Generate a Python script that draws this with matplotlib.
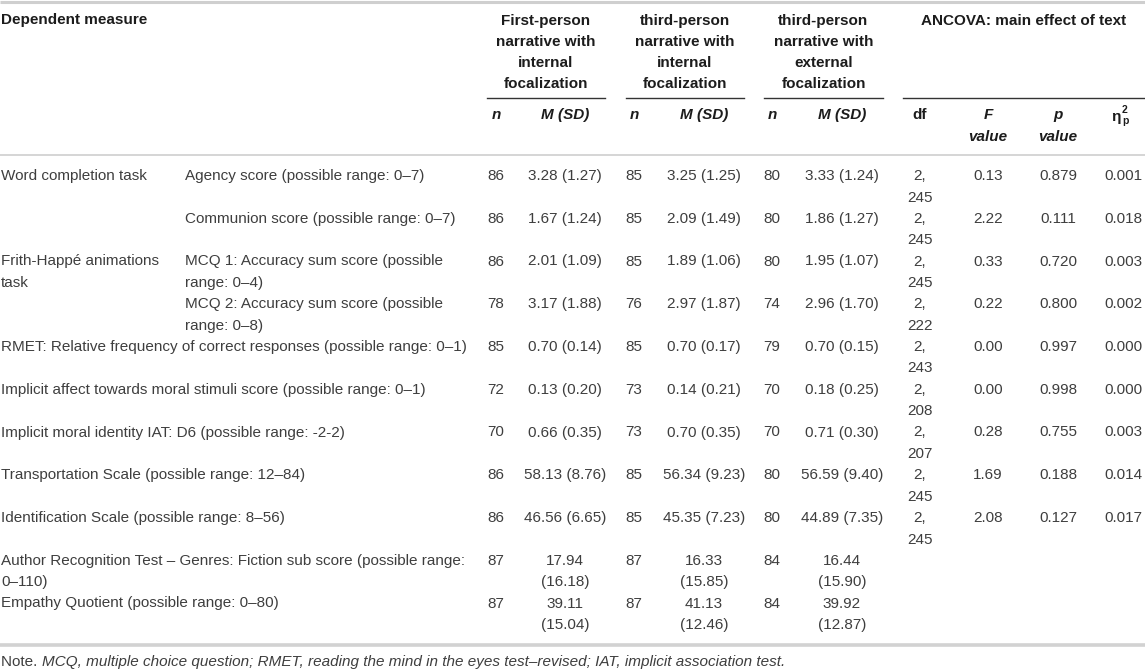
import matplotlib.pyplot as plt

plt.rcParams['font.family'] = ['Liberation Sans', 'DejaVu Sans']

# table content
measures = [
    "Word completion task", "", "Frith-Happé animations\ntask", "",
    "RMET: Relative frequency of correct responses (possible range: 0–1)",
    "Implicit affect towards moral stimuli score (possible range: 0–1)",
    "Implicit moral identity IAT: D6 (possible range: -2-2)",
    "Transportation Scale (possible range: 12–84)",
    "Identification Scale (possible range: 8–56)",
    "Author Recognition Test – Genres: Fiction sub score (possible range:\n0–110)",
    "Empathy Quotient (possible range: 0–80)",
]
submeasures = [
    "Agency score (possible range: 0–7)",
    "Communion score (possible range: 0–7)",
    "MCQ 1: Accuracy sum score (possible\nrange: 0–4)",
    "MCQ 2: Accuracy sum score (possible\nrange: 0–8)",
    "", "", "", "", "", "", "",
]
n1 = [86, 86, 86, 78, 85, 72, 70, 86, 86, 87, 87]
msd1 = ["3.28 (1.27)", "1.67 (1.24)", "2.01 (1.09)", "3.17 (1.88)", "0.70 (0.14)",
        "0.13 (0.20)", "0.66 (0.35)", "58.13 (8.76)", "46.56 (6.65)",
        "17.94\n(16.18)", "39.11\n(15.04)"]
n2 = [85, 85, 85, 76, 85, 73, 73, 85, 85, 87, 87]
msd2 = ["3.25 (1.25)", "2.09 (1.49)", "1.89 (1.06)", "2.97 (1.87)", "0.70 (0.17)",
        "0.14 (0.21)", "0.70 (0.35)", "56.34 (9.23)", "45.35 (7.23)",
        "16.33\n(15.85)", "41.13\n(12.46)"]
n3 = [80, 80, 80, 74, 79, 70, 70, 80, 80, 84, 84]
msd3 = ["3.33 (1.24)", "1.86 (1.27)", "1.95 (1.07)", "2.96 (1.70)", "0.70 (0.15)",
        "0.18 (0.25)", "0.71 (0.30)", "56.59 (9.40)", "44.89 (7.35)",
        "16.44\n(15.90)", "39.92\n(12.87)"]
df_vals = ["2,\n245", "2,\n245", "2,\n245", "2,\n222", "2,\n243", "2,\n208",
           "2,\n207", "2,\n245", "2,\n245", "", ""]
f_vals = ["0.13", "2.22", "0.33", "0.22", "0.00", "0.00", "0.28", "1.69", "2.08", "", ""]
p_vals = ["0.879", "0.111", "0.720", "0.800", "0.997", "0.998", "0.755", "0.188",
          "0.127", "", ""]
eta_vals = ["0.001", "0.018", "0.003", "0.002", "0.000", "0.000", "0.003", "0.014",
            "0.017", "", ""]

group_titles = ["First-person\nnarrative with\ninternal\nfocalization",
                "third-person\nnarrative with\ninternal\nfocalization",
                "third-person\nnarrative with\nexternal\nfocalization"]

body_c = '#3e3e3e'
head_c = '#1c1c1c'
fs = 11
line_h = 21.5

fig = plt.figure(figsize=(11.45, 6.70), dpi=100)
ax = fig.add_axes([0, 0, 1, 1])
ax.set_xlim(0, 1145)
ax.set_ylim(670, 0)
ax.axis('off')


def cell(x, y, s, ha='left'):
    for k, line in enumerate(s.split('\n')):
        ax.text(x, y + k * line_h, line, ha=ha, va='center', fontsize=fs,
                color=body_c)


def head(x, y, s, **kw):
    ax.text(x, y, s, ha='center', va='center', fontsize=fs,
            fontweight='bold', color=head_c, **kw)


# rules
ax.plot([0, 1145], [1.5, 1.5], color='#cfcfcf', lw=2.2, solid_capstyle='butt')
ax.plot([0, 1145], [155, 155], color='#d2d2d2', lw=1.3, solid_capstyle='butt')
ax.plot([0, 1145], [645, 645], color='#d2d2d2', lw=2.6, solid_capstyle='butt')

# header
ax.text(1, 20, "Dependent measure", ha='left', va='center', fontsize=fs,
        fontweight='bold', color=head_c)
group_x = [(487, 605), (626, 744), (764, 883)]
n_x = [496, 634, 772]
m_x = [565, 704, 842]
for (x0, x1), title, nx, mx in zip(group_x, group_titles, n_x, m_x):
    for k, line in enumerate(title.split('\n')):
        head((x0 + x1) / 2, 21 + k * 21, line)
    ax.plot([x0, x1], [98, 98], color='#333333', lw=1.0)
    head(nx, 115, "n", style='italic')
    head(mx, 115, "M (SD)", style='italic')

ax.plot([903, 1145], [98, 98], color='#333333', lw=1.0)
head(1024, 21, "ANCOVA: main effect of text")
df_x, f_x, p_x, eta_x = 920, 988, 1058, 1123
head(df_x, 115, "df")
for xx, lab in [(f_x, "F"), (p_x, "p")]:
    head(xx, 115, lab, style='italic')
    head(xx, 137, "value", style='italic')
ax.text(eta_x - 2, 117, "η", ha='right', va='center', fontsize=fs,
        fontweight='bold', color=head_c)
ax.text(eta_x - 1, 110, "2", ha='left', va='center', fontsize=7.5,
        fontweight='bold', color=head_c)
ax.text(eta_x - 1, 121, "p", ha='left', va='center', fontsize=7.5,
        fontweight='bold', color=head_c)

# body rows
row0, pitch = 176, 42.75
for i in range(len(measures)):
    y = row0 + i * pitch
    cell(1, y, measures[i])
    cell(185, y, submeasures[i])
    for nx, mx, nn, ms in zip(n_x, m_x, (n1, n2, n3), (msd1, msd2, msd3)):
        cell(nx, y, str(nn[i]), ha='center')
        cell(mx, y, ms[i], ha='center')
    cell(df_x, y, df_vals[i], ha='center')
    cell(f_x, y, f_vals[i], ha='center')
    cell(p_x, y, p_vals[i], ha='center')
    cell(eta_x, y, eta_vals[i], ha='center')

# note
t = ax.text(1, 662, "Note. ", ha='left', va='center', fontsize=fs, color=body_c)
ax.annotate("MCQ, multiple choice question; RMET, reading the mind in the eyes "
            "test–revised; IAT, implicit association test.",
            xy=(1, 0.5), xycoords=t, ha='left', va='center', fontsize=fs,
            style='italic', color=body_c)

fig.savefig('out.png', dpi=100)
